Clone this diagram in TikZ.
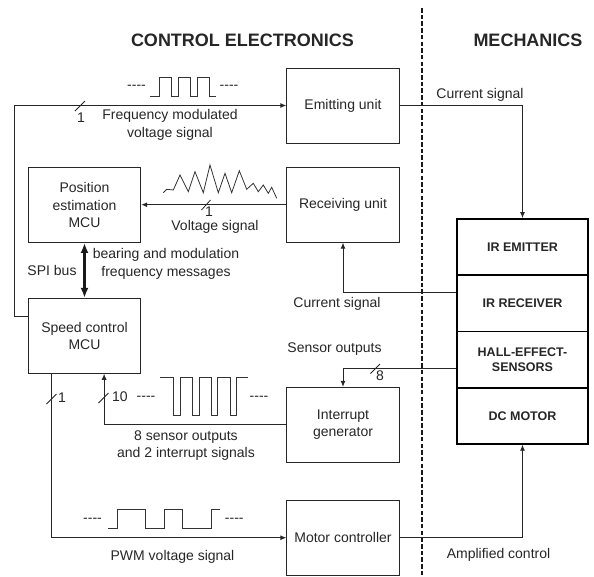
\documentclass[tikz,border=0pt]{standalone}
\usepackage{fontspec}
\setmainfont{Liberation Sans}
\usetikzlibrary{arrows.meta,calc}
\newcommand\txtfnt{\fontsize{14}{17.5}\selectfont}
\newcommand\mechfnt{\fontsize{12.5}{15}\selectfont\bfseries}
\newcommand\hdrfnt{\fontsize{18}{20}\selectfont\bfseries}
\newcommand\fourdash{-{}-{}-{}-}
\begin{document}
\begin{tikzpicture}[x=1pt,y=-1pt,
  ln/.style={draw=black!85, line width=0.9pt},
  box/.style={draw=black!85, line width=0.9pt, minimum width=112.5pt, minimum height=75pt, inner sep=0pt, align=center, font=\txtfnt, text=black!85},
  mech/.style={draw=black, line width=1.8pt, minimum width=131.6pt, minimum height=56.2pt, inner sep=0pt, align=center, font=\mechfnt, text=black!85},
  lbl/.style={font=\txtfnt, align=center, inner sep=0pt, text=black!85, text height=10pt, text depth=3pt},
  hdr/.style={font=\hdrfnt, inner sep=0pt, text=black!85},
  arr/.style={ln, -{Latex[length=6pt,width=5pt]}},
  spi/.style={draw=black!90, line width=2.4pt, {Latex[length=10pt,width=8pt]}-{Latex[length=10pt,width=8pt]}},
  tick/.style={draw=black!85, line width=0.8pt},
  wave/.style={draw=black!80, line width=0.8pt},
  divider/.style={draw=black!90, line width=2pt, dash pattern=on 4.5pt off 2.2pt},
]
\useasboundingbox (0,0) rectangle (594,576);

% headers
\node[hdr] (h1) at (242.5,40.5) {CONTROL ELECTRONICS};
\node[hdr] (h2) at (528,40) {MECHANICS};

% divider
\draw[divider] (422,8) -- (422,576);

% boxes
\node[box] (pos) at (84.5,205) {Position\\estimation\\MCU};
\node[box] (spd) at (84.5,335.8) {Speed control\\MCU};
\node[box] (emit) at (343,105.5) {Emitting unit};
\node[box] (recv) at (343,204.7) {Receiving unit};
\node[box] (intr) at (343,424.8) {Interrupt\\generator};
\node[box] (motor) at (343,537.7) {Motor controller};

% mechanics stack
\node[mech] (iremit) at (522.5,247.1) {IR EMITTER};
\node[mech] (irrecv) at (522.5,303.3) {IR RECEIVER};
\node[mech] (hall) at (522.5,359.5) {HALL-EFFECT-\\SENSORS};
\node[mech] (dcm) at (522.5,415.7) {DC MOTOR};

% connectors
\coordinate (fbc) at (14,106);
\draw[arr] ($(spd.north west)!0.25!(spd.south west)$) -| (fbc |- emit.west) -- (emit.west);
\draw[arr] (recv.west) -- (recv.west -| pos.east);
\draw[spi] (pos.south) -- (spd.north);
\draw[arr] ($(spd.south west)!0.208!(spd.south east)$) |- (motor.west);
\draw[arr] (intr.west) -| ($(spd.south west)!0.673!(spd.south east)$);
\draw[arr] (emit.east) -| (iremit.north);
\draw[arr] ($(irrecv.north west)!0.32!(irrecv.south west)$) -| (recv.south);
\draw[arr] ($(hall.north west)!0.65!(hall.south west)$) -| (intr.north);
\draw[arr] (motor.east) -| (dcm.south);

% bus width ticks
\draw[tick] (75,111) -- (85,101);
\node[lbl] (n1) at (81,119) {1};
\draw[tick] (201.5,210) -- (210.5,200);
\node[lbl] (n2) at (209,213) {1};
\draw[tick] (46.5,404) -- (56.5,394);
\node[lbl] (n3) at (62,399) {1};
\draw[tick] (98.5,403) -- (108.5,393);
\node[lbl] (n4) at (120,398) {10};
\draw[tick] (370.5,373.5) -- (380,364);
\node[lbl] (n5) at (380,377) {8};

% labels
\node[lbl] (l1) at (170,133.5) {Frequency modulated\\voltage signal};
\node[lbl] (l2) at (215,226.5) {Voltage signal};
\node[lbl] (l3) at (52,271.5) {SPI bus};
\node[lbl] (l4) at (166,272.5) {bearing and modulation\\frequency messages};
\node[lbl] (l5) at (186,454) {8 sensor outputs\\and 2 interrupt signals};
\node[lbl] (l6) at (172.5,556.5) {PWM voltage signal};
\node[lbl] (l7) at (480,95) {Current signal};
\node[lbl] (l8) at (337,304) {Current signal};
\node[lbl] (l9) at (334.5,349) {Sensor outputs};
\node[lbl] (l10) at (498.5,555) {Amplified control};

% waveform: frequency modulated
\node[lbl] (d1) at (136.5,86) {\fourdash};
\node[lbl] (d2) at (229,86) {\fourdash};
\draw[wave] (150,96) -- (159.3,96) -- (159.3,77.3) -- (171.7,77.3) -- (171.7,96) -- (178.3,96) -- (178.3,77.3) -- (190.7,77.3) -- (190.7,96) -- (197.3,96) -- (197.3,77.3) -- (209.3,77.3) -- (209.3,96) -- (216,96);

% waveform: received noisy signal
\draw[wave] (163.3,192.7) -- (166.7,189.3) -- (173.3,190) -- (180,175) -- (188.3,191.7) -- (195,171.7) -- (203.3,192.7) -- (210,165) -- (218.3,192.7) -- (225,173.3) -- (231.7,192.7) -- (239.3,170.7) -- (246.7,189.3) -- (253.3,183.3) -- (258.3,191.7) -- (263.3,185) -- (268.3,193.3) -- (271.7,187.3) -- (276.7,198.3);

% waveform: interrupt pulses
\node[lbl] (d3) at (146,396.7) {\fourdash};
\node[lbl] (d4) at (259,396.7) {\fourdash};
\draw[wave] (160,377.7) -- (173.3,377.7) -- (173.3,415.7) -- (180,415.7) -- (180,377.7) -- (192.7,377.7) -- (192.7,415.7) -- (199.3,415.7) -- (199.3,377.7) -- (211.3,377.7) -- (211.3,415.7) -- (217.3,415.7) -- (217.3,377.7) -- (230,377.7) -- (230,415.7) -- (236,415.7) -- (236,377.7) -- (248.3,377.7);

% waveform: PWM
\node[lbl] (d5) at (92.5,519) {\fourdash};
\node[lbl] (d6) at (234.3,519) {\fourdash};
\draw[wave] (108,528.3) -- (117.7,528.3) -- (117.7,509.3) -- (145.7,509.3) -- (145.7,528.3) -- (164.3,528.3) -- (164.3,509.3) -- (182.7,509.3) -- (182.7,528.3) -- (211,528.3) -- (211,509.3) -- (220,509.3);
\end{tikzpicture}
\end{document}
